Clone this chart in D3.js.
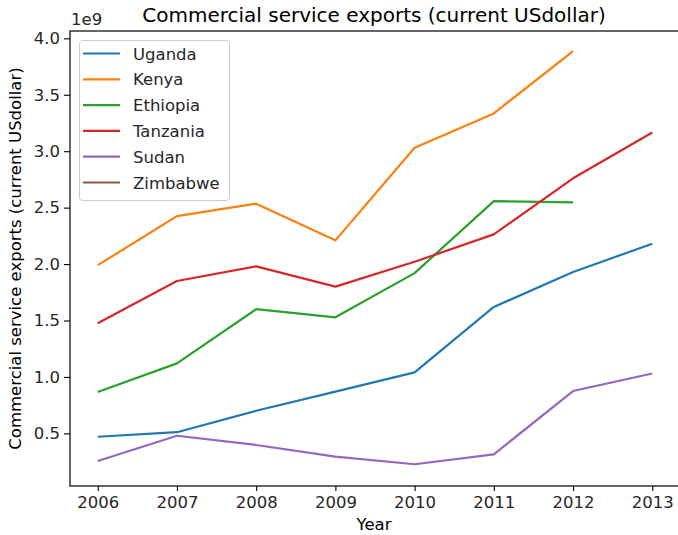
<!DOCTYPE html>
<html>
<head>
<meta charset="utf-8">
<script src="https://cdn.jsdelivr.net/npm/d3@7"></script>
<style>
  body { margin: 0; background: #fff; }
  svg { font-family: "DejaVu Sans", sans-serif; }
</style>
</head>
<body>
<svg id="chart" width="678" height="535"></svg>
<script>
// Commercial service exports by country, in billions of current US dollars
const years = [2006, 2007, 2008, 2009, 2010, 2011, 2012, 2013];
const uganda   = [0.47, 0.51, 0.70, 0.87, 1.04, 1.62, 1.93, 2.18];
const kenya    = [1.99, 2.425, 2.535, 2.21, 3.03, 3.335, 3.887, null];
const ethiopia = [0.866, 1.12, 1.60, 1.528, 1.92, 2.558, 2.546, null];
const tanzania = [1.475, 1.85, 1.98, 1.80, 2.02, 2.263, 2.76, 3.166];
const sudan    = [0.255, 0.479, 0.397, 0.293, 0.226, 0.314, 0.875, 1.03];
const zimbabwe = [null, null, null, null, null, null, null, null];
const yTicks = [0.5, 1.0, 1.5, 2.0, 2.5, 3.0, 3.5, 4.0];

const series = [
  { name: "Uganda", values: uganda, color: "#1f77b4" },
  { name: "Kenya", values: kenya, color: "#ff7f0e" },
  { name: "Ethiopia", values: ethiopia, color: "#2ca02c" },
  { name: "Tanzania", values: tanzania, color: "#d62728" },
  { name: "Sudan", values: sudan, color: "#9467bd" },
  { name: "Zimbabwe", values: zimbabwe, color: "#8c564b" }
];

const svg = d3.select("#chart");
const plotLeft = 70, plotRight = 680, plotTop = 31, plotBottom = 486;
const fs = 16.5;

const x = d3.scaleLinear().domain([2005.65, 2013.35]).range([plotLeft, plotRight]);
const y = d3.scaleLinear().domain([0.0335, 4.065]).range([plotBottom, plotTop]);

const line = d3.line()
  .defined(d => d[1] != null)
  .x(d => x(d[0]))
  .y(d => y(d[1]));

const plot = svg.append("g");
series.forEach(s => {
  plot.append("path")
    .datum(years.map((yr, i) => [yr, s.values[i]]))
    .attr("fill", "none")
    .attr("stroke", s.color)
    .attr("stroke-width", 2.2)
    .attr("stroke-linejoin", "round")
    .attr("d", line);
});

// axes
const xAxis = svg.append("g")
  .attr("transform", `translate(0,${plotBottom})`)
  .call(d3.axisBottom(x).tickValues(years).tickFormat(d3.format("d")).tickSize(5).tickPadding(5).tickSizeOuter(0));
const yAxis = svg.append("g")
  .attr("transform", `translate(${plotLeft},0)`)
  .call(d3.axisLeft(y).tickValues(yTicks).tickFormat(d3.format(".1f")).tickSize(6).tickPadding(4).tickSizeOuter(0));
[xAxis, yAxis].forEach(a => {
  a.selectAll("text").attr("font-size", fs).attr("fill", "#262626").attr("font-family", "DejaVu Sans");
  a.selectAll("line").attr("stroke", "#000").attr("stroke-width", 1.1);
  a.select(".domain").remove();
});

// frame
svg.append("rect")
  .attr("x", plotLeft).attr("y", plotTop)
  .attr("width", plotRight - plotLeft).attr("height", plotBottom - plotTop)
  .attr("fill", "none").attr("stroke", "#000").attr("stroke-width", 1.2);

// titles
svg.append("text").attr("x", 374).attr("y", 22).attr("text-anchor", "middle")
  .attr("font-size", 20).attr("fill", "#000").text("Commercial service exports (current USdollar)");
svg.append("text").attr("x", 71).attr("y", 25)
  .attr("font-size", fs).attr("fill", "#262626").text("1e9");
svg.append("text").attr("x", 374).attr("y", 530).attr("text-anchor", "middle")
  .attr("font-size", fs).attr("fill", "#000").text("Year");
svg.append("text")
  .attr("transform", `translate(20.5,${(plotTop + plotBottom) / 2}) rotate(-90)`)
  .attr("text-anchor", "middle")
  .attr("font-size", fs).attr("fill", "#000").text("Commercial service exports (current USdollar)");

// legend
const lg = svg.append("g");
lg.append("rect").attr("x", 79.5).attr("y", 40.5).attr("width", 150).attr("height", 160)
  .attr("rx", 3).attr("fill", "#fff").attr("fill-opacity", 0.8)
  .attr("stroke", "#ccc").attr("stroke-width", 1);
series.forEach((s, i) => {
  const ly = 53.5 + i * 25.8;
  lg.append("line").attr("x1", 83).attr("x2", 120).attr("y1", ly).attr("y2", ly)
    .attr("stroke", s.color).attr("stroke-width", 2.2);
  lg.append("text").attr("x", 133).attr("y", ly + 6)
    .attr("font-size", fs).attr("fill", "#262626").text(s.name);
});
</script>
</body>
</html>
